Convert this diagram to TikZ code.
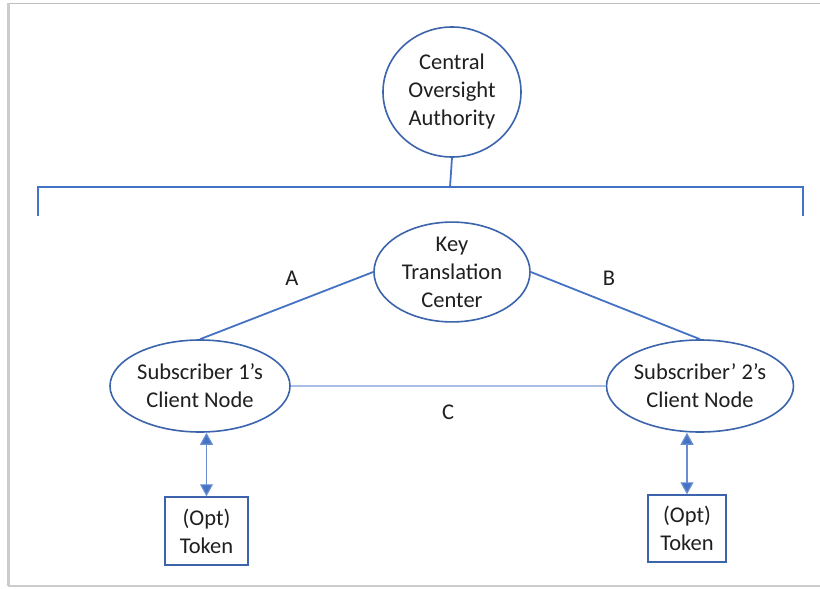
\documentclass[tikz,border=0pt]{standalone}
\usepackage{fontspec}
\setmainfont{Carlito}
\usetikzlibrary{arrows.meta,shapes.geometric}
\definecolor{edgeblue}{HTML}{3B64AD}
\definecolor{lineblue}{HTML}{4472C4}
\definecolor{lightline}{HTML}{A9BFE6}
\definecolor{framegray}{HTML}{BFBFBF}
\tikzset{
  every node/.style={font=\fontsize{22.5}{28}\selectfont, text=black!88},
  oval/.style={draw=edgeblue, line width=1.6pt, ellipse, inner sep=0pt, align=center},
  tokenbox/.style={draw=edgeblue, line width=1.5pt, rectangle, align=center, inner sep=0pt},
  link/.style={draw=lineblue, line width=1.8pt},
  thinlink/.style={draw=lightline, line width=1.2pt},
  biarrow/.style={draw=lineblue!80, line width=1.2pt, {Triangle[width=13pt,length=12pt,fill=lineblue]}-{Triangle[width=13pt,length=12pt,fill=lineblue]}},
  edgelabel/.style={inner sep=0pt}
}
\begin{document}
\begin{tikzpicture}[x=1pt, y=-1pt]
  % canvas and frame
  \useasboundingbox (0,0) rectangle (820,589);
  \fill[white] (0,0) rectangle (820,589);
  \draw[framegray, line width=1.2pt] (8,3.5) -- (825,3.5);
  \draw[framegray!80, line width=2.5pt] (8.5,3) -- (8.5,586);
  \draw[framegray!80, line width=2.5pt] (8,586) -- (825,586);

  % nodes
  \node[oval, minimum width=138pt, minimum height=130pt] (coa) at (452,92)
    {Central\\Oversight\\Authority};
  \node[oval, minimum width=156pt, minimum height=93pt] (ktc) at (452,272)
    {Key\\Translation\\Center};
  \node[oval, minimum width=180pt, minimum height=92pt] (sub1) at (200,386)
    {Subscriber 1’s\\Client Node};
  \node[oval, minimum width=180pt, minimum height=92pt] (sub2) at (700,386)
    {Subscriber’ 2’s\\Client Node};
  \node[tokenbox, minimum width=83pt, minimum height=68pt] (tok1) at (206.5,531)
    {(Opt)\\Token};
  \node[tokenbox, minimum width=78pt, minimum height=67pt] (tok2) at (687,528.5)
    {(Opt)\\Token};

  % oversight bracket
  \coordinate (bl) at (38,216);
  \coordinate (br) at (803,216);
  \coordinate (bj) at (450,187);
  \draw[link] (coa.south) -- (bj);
  \draw[link] (bl) -- (38,187) -- (803,187) -- (br);

  % key exchange links
  \draw[link] (ktc.west) -- (sub1.north);
  \draw[link] (ktc.east) -- (sub2.north);
  \draw[thinlink] (sub1.east) -- (sub2.west);

  % token links
  \draw[biarrow] (sub1.south -| tok1.north) -- (tok1.north);
  \draw[biarrow] (sub2.south -| tok2.north) -- (tok2.north);

  % labels
  \node[edgelabel] (la) at (292,278) {A};
  \node[edgelabel] (lb) at (609,278) {B};
  \node[edgelabel] (lc) at (448,412) {C};
\end{tikzpicture}
\end{document}
